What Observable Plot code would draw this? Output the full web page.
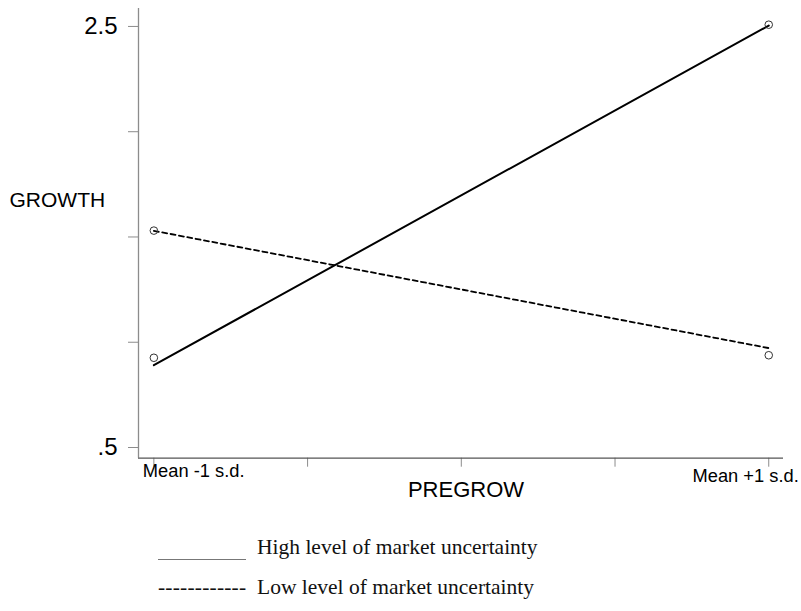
<!DOCTYPE html>
<html>
<head>
<meta charset="utf-8">
<script src="https://cdn.jsdelivr.net/npm/d3@7"></script>
<script src="https://cdn.jsdelivr.net/npm/@observablehq/plot@0.6"></script>
<style>
  body { margin: 0; background: white; width: 801px; height: 611px; position: relative; overflow: hidden; }
  #chart { position: absolute; left: 0; top: 0; }
  .leg { position: absolute; font-family: "Liberation Serif", "Times New Roman", serif; font-size: 21.5px; line-height: 22px; color: #111; white-space: nowrap; }
  .legline { position: absolute; height: 1.5px; background: #777; }
</style>
</head>
<body>
<div id="chart"></div>
<div class="legline" style="left:158px; top:558.5px; width:88px;"></div>
<div class="leg" id="legHigh" style="left:257px; top:535.7px;"></div>
<div class="leg" id="legLowKey" style="left:158px; top:576px; letter-spacing:0.2px;">------------</div>
<div class="leg" id="legLow" style="left:257px; top:576px;"></div>
<script>
// ---- data ----
const xValues = [-1, 1];
const xLabels = ["Mean -1 s.d.", "Mean +1 s.d."];
const highPoints = [0.912, 2.494];
const lowPoints = [1.516, 0.924];
const highLine = [0.877, 2.490];
const lowLine = [1.515, 0.958];
const seriesNames = ["High level of market uncertainty", "Low level of market uncertainty"];
const yTicks = [0.5, 1, 1.5, 2, 2.5];
const yTickLabels = {0.5: ".5", 2.5: "2.5"};
const xTicks = [-1, -0.5, 0, 0.5, 1];
const xTitle = "PREGROW";
const yTitle = "GROWTH";

// ---- tables ----
const xDomain = [-1.05, 1.048];
const yDomain = [0.435, 2.571];
const lineData = [
  ...xValues.map((x, i) => ({x, y: highLine[i], s: seriesNames[0]})),
  ...xValues.map((x, i) => ({x, y: lowLine[i], s: seriesNames[1]}))
];
const pointData = [
  ...xValues.map((x, i) => ({x, y: highPoints[i]})),
  ...xValues.map((x, i) => ({x, y: lowPoints[i]}))
];
const labelData = xValues.map((x, i) => ({x, label: xLabels[i]}));

const plot = Plot.plot({
  width: 801,
  height: 520,
  marginLeft: 138,
  marginRight: 18,
  marginTop: 8,
  marginBottom: 62.3,
  style: {background: "white", color: "black", fontFamily: "'Liberation Sans', Arial, sans-serif"},
  x: {domain: xDomain, axis: null},
  y: {domain: yDomain, axis: null},
  marks: [
    Plot.axisY(yTicks, {label: null, tickSize: 10, tickPadding: 11, stroke: "#8c8c8c", fontSize: 24, dy: 3,
      tickFormat: d => yTickLabels[d] ?? ""}),
    Plot.axisX(xTicks, {label: null, tickSize: 9, stroke: "#8c8c8c", tickFormat: () => ""}),
    Plot.ruleX([xDomain[0]], {stroke: "#8c8c8c", strokeWidth: 1.3}),
    Plot.ruleY([yDomain[0]], {stroke: "#555", strokeWidth: 1.3}),
    Plot.line(lineData.filter(d => d.s === seriesNames[0]), {x: "x", y: "y", stroke: "#000", strokeWidth: 2}),
    Plot.line(lineData.filter(d => d.s === seriesNames[1]), {x: "x", y: "y", stroke: "#000", strokeWidth: 1.8, strokeDasharray: "5,3.5"}),
    Plot.dot(pointData, {x: "x", y: "y", r: 3.8, stroke: "#333", strokeWidth: 1, fill: "none"}),
    Plot.text([labelData[0]], {x: "x", text: "label", frameAnchor: "bottom", textAnchor: "start", dx: -11, dy: 18.5, fontSize: 18.3}),
    Plot.text([labelData[1]], {x: "x", text: "label", frameAnchor: "bottom", textAnchor: "end", dx: 30, dy: 23.5, fontSize: 18.3}),
    Plot.text([xTitle], {frameAnchor: "bottom", dx: 5, dy: 39, fontSize: 22}),
    Plot.text([yTitle], {frameAnchor: "left", textAnchor: "start", dx: -129, dy: -33, fontSize: 21})
  ]
});
document.getElementById("chart").appendChild(plot);
document.getElementById("legHigh").textContent = seriesNames[0];
document.getElementById("legLow").textContent = seriesNames[1];
</script>
</body>
</html>
